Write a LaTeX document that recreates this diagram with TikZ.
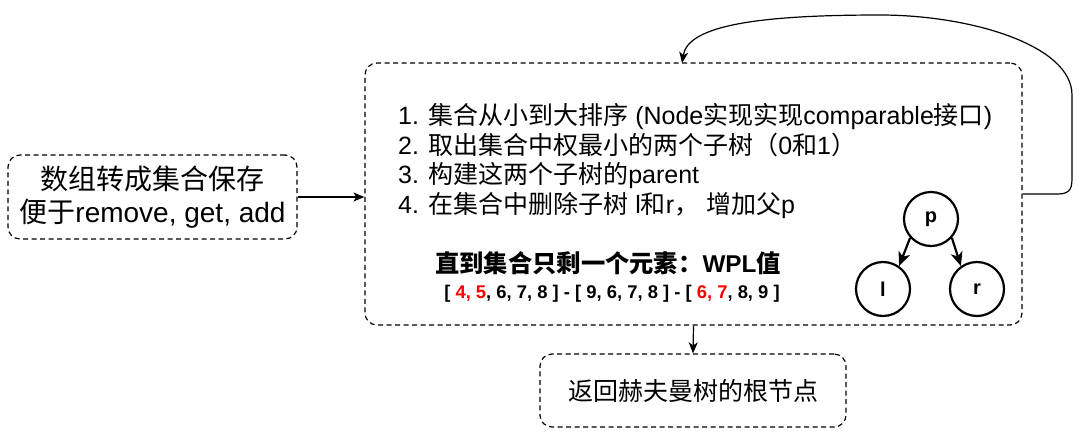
\documentclass[tikz,border=0pt]{standalone}
\usepackage{fontspec}
\setmainfont{Liberation Sans}
\newfontfamily\cjkfont{Noto Sans CJK SC}
\newcommand\zh[1]{{\cjkfont #1}}
\usetikzlibrary{arrows.meta}
\tikzset{
  dbox/.style={draw, dash pattern=on 5pt off 3.5pt, line width=1.2pt, rounded corners=12pt, inner sep=0pt},
  arr/.style={-{Stealth[length=11pt,width=9pt,inset=3pt]}, line width=1.2pt},
  tnode/.style={circle, draw, line width=2.2pt, minimum size=54pt, inner sep=0pt, font=\fontsize{20}{20}\selectfont\bfseries},
  tarr/.style={-{Stealth[length=14pt,width=12pt,inset=4pt]}, line width=2.2pt}
}
\begin{document}
\begin{tikzpicture}[x=1pt,y=-1pt]
\useasboundingbox (0,0) rectangle (1085,432);
% left box
\node[dbox, minimum width=289pt, minimum height=84pt, align=center,
      font=\fontsize{28}{33}\selectfont] (left) at (152.5,197)
  {\zh{数组转成集合保存}\\\zh{便于}remove, get, add};
% big box
\node[dbox, minimum width=657pt, minimum height=262pt] (big) at (693.5,194) {};
\node[anchor=west, align=left, inner sep=0pt, font=\fontsize{25}{29.5}\selectfont] (steps) at (398,161)
  {1. \zh{集合从小到大排序} (Node\zh{实现实现}comparable\zh{接口})\\
   2. \zh{取出集合中权最小的两个子树（}0\zh{和}1\zh{）}\\
   3. \zh{构建这两个子树的}parent\\
   4. \zh{在集合中删除子树} l\zh{和}r\zh{，} \zh{增加父}p};
\node[inner sep=0pt, font=\fontsize{24.3}{24}\selectfont\bfseries] (wpl) at (608,263)
  {\zh{直到集合只剩一个元素：}WPL\zh{值}};
\node[inner sep=0pt, font=\fontsize{18.4}{18}\selectfont\bfseries] (seq) at (612,294)
  {[ \textcolor{red}{4, 5}, 6, 7, 8 ] - [ 9, 6, 7, 8 ] - [ \textcolor{red}{6, 7}, 8, 9 ]};
% tree
\node[tnode] (p) at (931,219) {p};
\node[tnode] (l) at (883,289) {l};
\node[tnode] (r) at (977,289) {r};
\draw[tarr] (p.222) -- (l.55);
\draw[tarr] (p.318) -- (r.125);
% bottom box
\node[dbox, minimum width=306pt, minimum height=73pt, font=\fontsize{25}{25}\selectfont] (bottom) at (693,390.5)
  {\zh{返回赫夫曼树的根节点}};
% connectors
\draw[arr] (left.east) -- (left.east -| big.west);
\draw[arr] (big.south) -- (bottom.north);
\coordinate (loopout) at (big.east);
\coordinate (loopin) at (682,63);
\draw[arr] (loopout) -- (1058,194) .. controls (1072,194) and (1072,186) .. (1072,176)
  -- (1072,95) .. controls (1072,45) and (970,15) .. (880,15)
  .. controls (760,15) and (688,25) .. (loopin);
\end{tikzpicture}
\end{document}
